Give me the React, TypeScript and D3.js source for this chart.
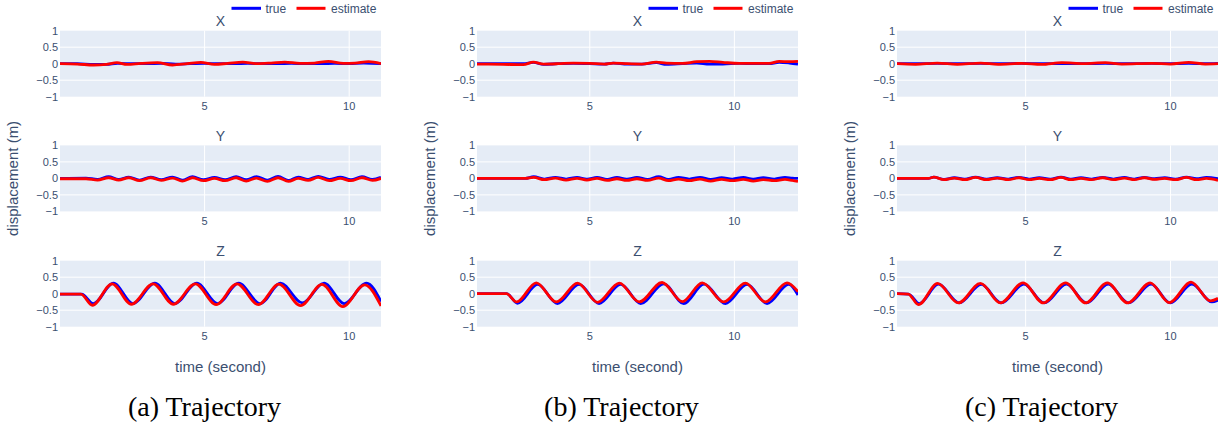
import React from "react";
import * as d3 from "d3";

type Pt = [number, number];

// ---------------- DATA (time in s, displacement in m) ----------------
const panelNames = ["a", "b", "c"];
const captions = ["(a) Trajectory", "(b) Trajectory", "(c) Trajectory"];
const timeRanges: Pt[] = [[0, 11.1], [1.1, 12.2], [0.56, 11.64]];
const xTicks = [5, 10];
const yTicks = [1, 0.5, 0, -0.5, -1];
const yTickLabels = ["1", "0.5", "0", "\u22120.5", "\u22121"];
const subplotTitles = ["X", "Y", "Z"];
const legendLabels = ["true", "estimate"];

// Panel (a)
const a_X_true: Pt[] = [[0,0],[0.6,0],[1.16,-0.02],[1.6,-0.02],[2.0,0.01],[2.5,0],[3.0,0],[3.5,0.01],[4.0,-0.01],[4.5,0],[5.0,0.01],[5.5,0],[6.0,0],[6.5,0.01],[7.0,0],[7.5,0],[8.0,0.01],[8.5,0],[9.0,0],[9.5,0.01],[10.0,0],[10.5,0.02],[11.1,0]];
const a_X_est: Pt[] = [[0,0],[0.6,-0.01],[1.16,-0.04],[1.6,-0.02],[1.97,0.03],[2.32,-0.02],[2.8,0.01],[3.37,0.03],[3.89,-0.04],[4.4,0],[4.87,0.04],[5.34,-0.02],[5.8,0.01],[6.32,0.05],[6.8,0],[7.3,0.02],[7.77,0.05],[8.3,0.01],[8.8,0.02],[9.28,0.07],[9.8,0.01],[10.2,0.02],[10.67,0.06],[11.1,0]];
const a_Y_true: Pt[] = [[0,0],[0.9,0.01],[1.3,-0.03],[1.68,0.05],[2.03,-0.03],[2.38,0.04],[2.75,-0.05],[3.13,0.04],[3.5,-0.04],[3.89,0.04],[4.23,-0.05],[4.58,0.05],[4.96,-0.04],[5.34,0.03],[5.71,-0.04],[6.09,0.05],[6.44,-0.04],[6.79,0.05],[7.17,-0.05],[7.54,0.06],[7.9,-0.06],[8.24,0.04],[8.58,-0.03],[8.93,0.06],[9.31,-0.03],[9.69,0.04],[10.06,-0.04],[10.44,0.05],[10.8,-0.03],[11.1,0.03]];
const a_Y_est: Pt[] = [[0,-0.01],[0.9,-0.01],[1.3,-0.05],[1.68,0.02],[2.03,-0.05],[2.38,0.02],[2.75,-0.07],[3.13,0.02],[3.5,-0.06],[3.89,0.01],[4.23,-0.08],[4.58,0.02],[4.96,-0.07],[5.34,0],[5.71,-0.07],[6.09,0.02],[6.44,-0.08],[6.79,0.01],[7.17,-0.09],[7.54,0.02],[7.9,-0.09],[8.24,0],[8.58,-0.06],[8.93,0.03],[9.31,-0.07],[9.69,0],[10.06,-0.07],[10.44,0.02],[10.8,-0.06],[11.1,0]];
const a_Z_true: Pt[] = [[0,-0.01],[0.75,-0.01],[1.15,-0.3],[1.85,0.32],[2.52,-0.3],[3.28,0.32],[3.97,-0.3],[4.73,0.32],[5.45,-0.3],[6.18,0.32],[6.92,-0.3],[7.63,0.32],[8.38,-0.28],[9.13,0.32],[9.83,-0.3],[10.6,0.32],[11.1,-0.24]];
const a_Z_est: Pt[] = [[0,-0.01],[0.72,-0.01],[1.12,-0.35],[1.8,0.3],[2.47,-0.32],[3.22,0.3],[3.92,-0.32],[4.68,0.3],[5.4,-0.33],[6.12,0.3],[6.86,-0.33],[7.57,0.29],[8.32,-0.36],[9.06,0.28],[9.78,-0.39],[10.53,0.27],[11.1,-0.37]];

// Panel (b)
const b_X_true: Pt[] = [[1.1,0],[2.0,0],[2.7,0],[3.05,0.04],[3.4,-0.02],[3.9,0],[4.43,0.01],[5.0,0],[5.5,-0.01],[5.81,0.02],[6.3,-0.01],[6.8,-0.01],[7.3,0.03],[7.65,-0.02],[8.2,0],[8.7,0.02],[9.14,-0.01],[9.6,-0.01],[10.17,0.01],[10.7,0],[11.2,0],[11.55,0.04],[11.9,0.02],[12.2,-0.01]];
const b_X_est: Pt[] = [[1.1,-0.01],[2.0,-0.02],[2.7,-0.03],[3.05,0.05],[3.4,-0.01],[3.9,0],[4.43,0.02],[5.0,0.01],[5.5,-0.01],[5.81,0.02],[6.3,0],[6.8,-0.01],[7.3,0.05],[7.65,0.02],[8.2,0.01],[8.7,0.06],[9.14,0.07],[9.6,0.04],[10.17,0.01],[10.7,0.01],[11.2,0.01],[11.55,0.07],[11.9,0.06],[12.2,0.07]];
const b_Y_true: Pt[] = [[1.1,0],[2.77,0],[3.06,0.05],[3.43,-0.02],[3.81,0.03],[4.18,-0.02],[4.56,0.03],[4.9,-0.02],[5.25,0.03],[5.6,-0.03],[5.94,0.03],[6.28,-0.02],[6.63,0.03],[7.0,-0.03],[7.38,0.05],[7.72,-0.03],[8.07,0.03],[8.44,-0.02],[8.81,0.03],[9.18,-0.03],[9.56,0.02],[9.93,-0.02],[10.31,0.03],[10.65,-0.02],[11.0,0.02],[11.38,-0.02],[11.75,0.03],[12.0,0.01],[12.2,0]];
const b_Y_est: Pt[] = [[1.1,0],[2.77,0],[3.06,0.03],[3.43,-0.04],[3.81,0.01],[4.18,-0.05],[4.56,0],[4.9,-0.05],[5.25,0],[5.6,-0.06],[5.94,-0.01],[6.28,-0.06],[6.63,-0.01],[7.0,-0.06],[7.38,0.01],[7.72,-0.07],[8.07,-0.02],[8.44,-0.07],[8.81,-0.02],[9.18,-0.08],[9.56,-0.03],[9.93,-0.07],[10.31,-0.03],[10.65,-0.08],[11.0,-0.04],[11.38,-0.07],[11.75,-0.03],[12.0,-0.06],[12.2,-0.09]];
const b_Z_true: Pt[] = [[1.1,0],[2.13,0],[2.5,-0.29],[3.2,0.28],[3.88,-0.3],[4.63,0.28],[5.32,-0.3],[6.07,0.28],[6.76,-0.3],[7.56,0.3],[8.25,-0.3],[8.95,0.29],[9.69,-0.3],[10.44,0.28],[11.13,-0.3],[11.88,0.28],[12.2,-0.04]];
const b_Z_est: Pt[] = [[1.1,0],[2.12,0],[2.47,-0.25],[3.15,0.33],[3.84,-0.25],[4.58,0.32],[5.27,-0.26],[6.02,0.32],[6.71,-0.25],[7.5,0.34],[8.2,-0.24],[8.89,0.33],[9.63,-0.25],[10.38,0.32],[11.07,-0.25],[11.82,0.33],[12.2,0.06]];

// Panel (c)
const c_X_true: Pt[] = [[0.56,0],[1.2,0],[1.95,0.01],[2.64,0],[3.45,0.01],[4.05,0],[4.86,0.01],[5.55,0],[6.25,0],[7.0,0],[7.75,0.01],[8.32,0],[9.36,0.01],[10.0,0],[10.63,0.01],[11.2,0],[11.64,0.01]];
const c_X_est: Pt[] = [[0.56,0],[1.2,-0.02],[1.95,0.02],[2.64,-0.02],[3.45,0.02],[4.05,-0.02],[4.86,0.01],[5.55,-0.02],[6.25,0.03],[7.0,0],[7.75,0.03],[8.32,-0.01],[9.36,0.01],[10.0,-0.01],[10.63,0.04],[11.2,-0.01],[11.64,0]];
const c_Y_true: Pt[] = [[0.56,0],[1.65,0],[1.83,0.04],[2.18,-0.03],[2.54,0.02],[2.9,-0.02],[3.27,0.04],[3.65,-0.02],[4.02,0.02],[4.4,-0.02],[4.77,0.03],[5.12,-0.02],[5.47,0.02],[5.85,-0.02],[6.22,0.04],[6.56,-0.02],[6.91,0.02],[7.28,-0.02],[7.66,0.03],[8.03,-0.02],[8.41,0.03],[8.75,-0.02],[9.1,0.03],[9.45,-0.01],[9.8,0.02],[10.17,-0.02],[10.55,0.04],[10.9,-0.01],[11.24,0.03],[11.64,-0.01]];
const c_Y_est: Pt[] = [[0.56,0],[1.65,0],[1.83,0.04],[2.18,-0.04],[2.54,0.01],[2.9,-0.04],[3.27,0.03],[3.65,-0.04],[4.02,0.01],[4.4,-0.04],[4.77,0.02],[5.12,-0.04],[5.47,0],[5.85,-0.04],[6.22,0.03],[6.56,-0.04],[6.91,0],[7.28,-0.04],[7.66,0.02],[8.03,-0.04],[8.41,0.01],[8.75,-0.04],[9.1,0.02],[9.45,-0.03],[9.8,0],[10.17,-0.04],[10.55,0.03],[10.9,-0.04],[11.24,0],[11.64,-0.06]];
const c_Z_true: Pt[] = [[0.56,0],[0.96,-0.01],[1.33,-0.3],[1.99,0.29],[2.71,-0.28],[3.47,0.28],[4.16,-0.28],[4.94,0.29],[5.64,-0.28],[6.41,0.29],[7.1,-0.28],[7.85,0.29],[8.55,-0.28],[9.33,0.29],[9.99,-0.28],[10.74,0.29],[11.43,-0.25],[11.64,-0.2]];
const c_Z_est: Pt[] = [[0.56,0],[0.95,-0.01],[1.3,-0.33],[1.96,0.31],[2.68,-0.28],[3.44,0.31],[4.13,-0.28],[4.91,0.33],[5.61,-0.28],[6.38,0.33],[7.07,-0.28],[7.82,0.33],[8.52,-0.28],[9.3,0.33],[9.96,-0.27],[10.71,0.35],[11.38,-0.22],[11.64,-0.14]];

const panelSeries: Pt[][][][] = [
  [[a_X_true, a_X_est], [a_Y_true, a_Y_est], [a_Z_true, a_Z_est]],
  [[b_X_true, b_X_est], [b_Y_true, b_Y_est], [b_Z_true, b_Z_est]],
  [[c_X_true, c_X_est], [c_Y_true, c_Y_est], [c_Z_true, c_Z_est]],
];

// ---------------- LAYOUT ----------------
const W = 1225;
const H = 430;
const plotLefts = [60, 477, 897];
const plotWidth = 321;
const rowTops = [30.7, 145.4, 260.7];
const plotHeight = 66;
const colors = ["#0000ff", "#ff0000"];
const textColor = "#3b4f70";
const sans = "'Liberation Sans', Arial, Helvetica, sans-serif";
const serif = "'Liberation Serif', 'Times New Roman', serif";

function Subplot({ id, left, top, x, title, series }: any) {
  const y = d3.scaleLinear().domain([-1, 1]).range([top + plotHeight, top]);
  const line = d3
    .line<Pt>()
    .x((d) => x(d[0]))
    .y((d) => y(d[1]))
    .curve(d3.curveMonotoneX);
  const right = left + plotWidth;
  return (
    <g>
      <defs>
        <clipPath id={id}>
          <rect x={left} y={top - 2} width={plotWidth} height={plotHeight + 4} />
        </clipPath>
      </defs>
      <rect x={left} y={top} width={plotWidth} height={plotHeight} fill="#e5ecf6" />
      {xTicks.map((t) => (
        <line key={"vx" + t} x1={x(t)} x2={x(t)} y1={top} y2={top + plotHeight} stroke="#fff" strokeWidth={1} />
      ))}
      {yTicks
        .filter((t) => t !== 0 && Math.abs(t) !== 1)
        .map((t) => (
          <line key={"hy" + t} x1={left} x2={right} y1={y(t)} y2={y(t)} stroke="#fff" strokeWidth={1} />
        ))}
      <line x1={left} x2={right} y1={y(0)} y2={y(0)} stroke="#fff" strokeWidth={2} />
      {yTicks.map((t, i) => (
        <text key={"yl" + t} x={left - 2} y={y(t) + 4} textAnchor="end" fontSize={11} fill={textColor} fontFamily={sans}>
          {yTickLabels[i]}
        </text>
      ))}
      {xTicks.map((t) => (
        <text key={"xl" + t} x={x(t)} y={top + plotHeight + 13.5} textAnchor="middle" fontSize={11} fill={textColor} fontFamily={sans}>
          {t}
        </text>
      ))}
      <text x={left + plotWidth / 2} y={top - 4.5} textAnchor="middle" fontSize={14} fill={textColor} fontFamily={sans}>
        {title}
      </text>
      <g clipPath={`url(#${id})`}>
        {series.map((s: Pt[], i: number) => (
          <path key={i} d={line(s) || ""} fill="none" stroke={colors[i]} strokeWidth={2.8} strokeLinejoin="round" />
        ))}
      </g>
    </g>
  );
}

function Panel({ idx }: { idx: number }) {
  const left = plotLefts[idx];
  const right = left + plotWidth;
  const x = d3.scaleLinear().domain(timeRanges[idx]).range([left, right]);
  const cx = left + plotWidth / 2;
  const legendItems = [
    { x1: right - 149.5, x2: right - 120, tx: right - 115.5 },
    { x1: right - 84.5, x2: right - 55.5, tx: right - 50 },
  ];
  return (
    <g>
      {legendItems.map((it, i) => (
        <g key={i}>
          <line x1={it.x1} x2={it.x2} y1={8.3} y2={8.3} stroke={colors[i]} strokeWidth={3} />
          <text x={it.tx} y={12.6} fontSize={12} fill={textColor} fontFamily={sans}>
            {legendLabels[i]}
          </text>
        </g>
      ))}
      {subplotTitles.map((t, r) => (
        <Subplot
          key={t}
          id={`clip-${panelNames[idx]}-${r}`}
          left={left}
          top={rowTops[r]}
          x={x}
          title={t}
          series={panelSeries[idx][r]}
        />
      ))}
      <text
        transform={`translate(${left - 42},${rowTops[1] + plotHeight / 2}) rotate(-90)`}
        textAnchor="middle"
        fontSize={15}
        fill={textColor}
        fontFamily={sans}
      >
        displacement (m)
      </text>
      <text x={cx} y={372} textAnchor="middle" fontSize={15} fill={textColor} fontFamily={sans}>
        time (second)
      </text>
      <text x={cx - 16} y={416} textAnchor="middle" fontSize={28} fill="#000" fontFamily={serif}>
        {captions[idx]}
      </text>
    </g>
  );
}

export default function App() {
  return (
    <svg
      width={W}
      height={H}
      viewBox={`0 0 ${W} ${H}`}
      style={{ position: "absolute", left: 0, top: 0, background: "#fff" }}
    >
      <rect x={0} y={0} width={W} height={H} fill="#fff" />
      {panelNames.map((_, i) => (
        <Panel key={i} idx={i} />
      ))}
    </svg>
  );
}
